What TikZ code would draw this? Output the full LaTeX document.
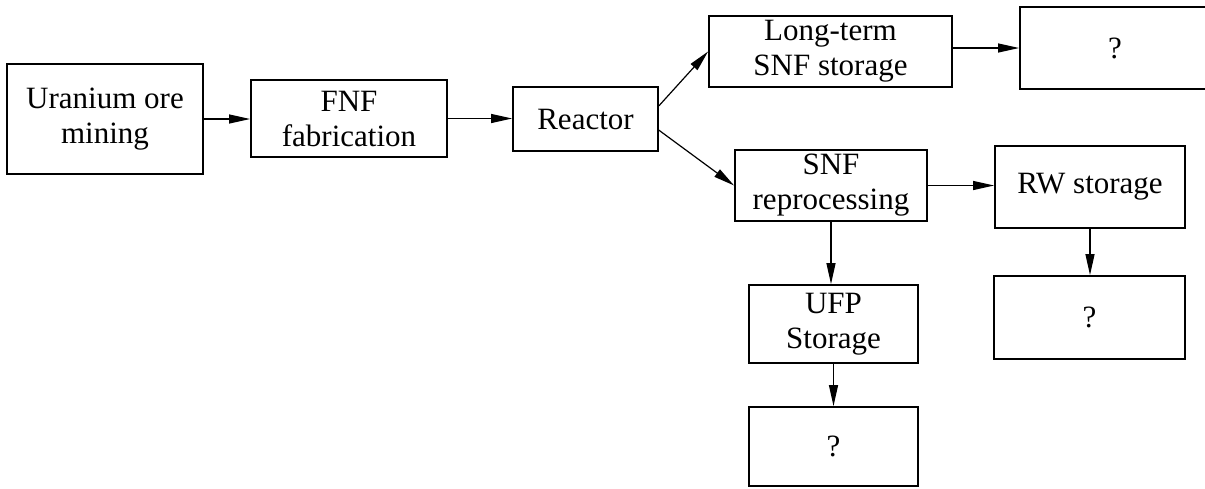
\documentclass[tikz,border=0pt]{standalone}
\usepackage{fontspec}
\setmainfont{Liberation Serif}
\usetikzlibrary{arrows.meta,calc}
\begin{document}
\begin{tikzpicture}[x=1pt,y=-1pt,
  box/.style={draw,line width=1.8pt,rectangle,inner sep=0pt,align=center,
    font=\fontsize{31}{35}\selectfont},
  arr/.style={line width=1.2pt,-{Triangle[length=21pt,width=9pt]}}]
\useasboundingbox (0,0) rectangle (1205,488);
\node[box,minimum width=196pt,minimum height=110pt] (U) at (105,119) {Uranium ore\\mining};
\node[box,minimum width=196pt,minimum height=77pt] (F) at (349,118.5) {FNF\\fabrication};
\node[box,minimum width=145pt,minimum height=64pt] (R) at (585.5,119) {Reactor};
\node[box,minimum width=243pt,minimum height=71pt] (L) at (830.5,51.5) {Long-term\\SNF storage};
\node[box,minimum width=190pt,minimum height=82pt] (Q1) at (1115,48) {?};
\node[box,minimum width=192pt,minimum height=71pt] (S) at (831,185.5) {SNF\\reprocessing};
\node[box,minimum width=190pt,minimum height=82pt] (RW) at (1090,187) {RW storage};
\node[box,minimum width=169pt,minimum height=78pt] (UFP) at (833.5,324) {UFP\\Storage};
\node[box,minimum width=169pt,minimum height=79pt] (Q2) at (833.5,446.5) {?};
\node[box,minimum width=191pt,minimum height=83pt] (Q3) at (1089.5,317.5) {?};
\draw[arr] (U.east) -- (U.east -| F.west);
\draw[arr] (F.east) -- (F.east -| R.west);
\draw[arr] ($(R.north east)!0.3!(R.south east)$) -- (L.west);
\draw[arr] ($(R.north east)!0.67!(R.south east)$) -- (S.west);
\draw[arr] (Q1.west -| L.east) -- (Q1.west);
\draw[arr] (S.east) -- (S.east -| RW.west);
\draw[arr] (S.south) -- (S.south |- UFP.north);
\draw[arr] (UFP.south) -- (Q2.north);
\draw[arr] (RW.south) -- (RW.south |- Q3.north);
\end{tikzpicture}
\end{document}
